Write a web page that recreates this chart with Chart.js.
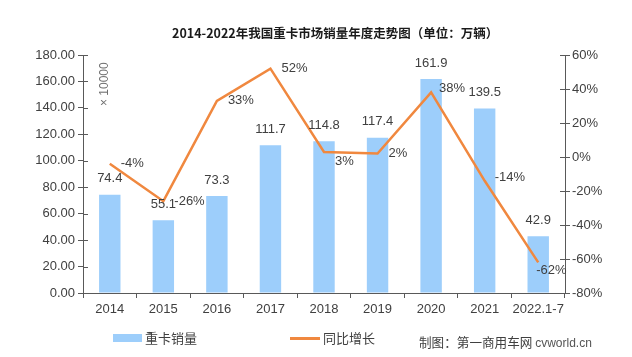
<!DOCTYPE html>
<html><head><meta charset="utf-8">
<script src="https://cdn.jsdelivr.net/npm/chart.js@4/dist/chart.umd.min.js"></script>
<style>
html,body{margin:0;padding:0;background:#fff;}
#wrap{position:relative;width:632px;height:357px;font-family:"Liberation Sans","Noto Sans CJK SC",sans-serif;color:#404040;}
#c{position:absolute;left:0;top:0;}
.t{position:absolute;white-space:nowrap;line-height:13px;}
</style></head>
<body><div id="wrap">
<canvas id="c" width="632" height="357"></canvas>
<div class="t" id="title" style="left:172px;top:26px;font:bold 12.5px/13px 'Noto Sans CJK SC','Liberation Sans';color:#1a1a1a;">2014-2022年我国重卡市场销量年度走势图（单位：万辆）</div>
<div class="t" style="left:113px;top:334px;width:29px;height:8px;background:#9DCEFB;"></div>
<div class="t" style="left:145px;top:331px;font:13px/13px 'Noto Sans CJK SC';">重卡销量</div>
<div class="t" style="left:290px;top:337px;width:30px;height:2.5px;background:#F0883F;"></div>
<div class="t" style="left:323px;top:331px;font:13px/13px 'Noto Sans CJK SC';">同比增长</div>
<div class="t" style="left:419px;top:335px;font:12.6px/13px 'Noto Sans CJK SC';">制图：第一商用车网 <span style="font-family:'Liberation Sans';font-size:12px;color:#555;">cvworld.cn</span></div>
<div class="t" style="left:98px;top:106px;transform:rotate(-90deg);transform-origin:0 0;font:12px/12px 'Liberation Sans';color:#707070;">× 10000</div>
</div>
<script>
const categories = ['2014','2015','2016','2017','2018','2019','2020','2021','2022.1-7'];
const sales = [74.4, 55.1, 73.3, 111.7, 114.8, 117.4, 161.9, 139.5, 42.9];
const growth = [-4, -26, 33, 52, 3, 2, 38, -14, -62];
const leftTicks = [0,20,40,60,80,100,120,140,160,180];
const rightTicks = [-80,-60,-40,-20,0,20,40,60];

const AXIS = '#595959';
const TXT = '#404040';

const innerTicks = {
  id:'innerTicks',
  afterDraw(chart){
    const ctx = chart.ctx;
    ctx.save();
    ctx.strokeStyle = AXIS; ctx.lineWidth = 1;
    ['y','y1'].forEach(id=>{
      const s = chart.scales[id];
      const x = id==='y' ? s.right : s.left;
      const dir = id==='y' ? 1 : -1;
      s.ticks.forEach((t,i)=>{
        const py = Math.round(s.getPixelForTick(i))+0.5;
        ctx.beginPath(); ctx.moveTo(x, py); ctx.lineTo(x+dir*5, py); ctx.stroke();
      });
    });
    ctx.restore();
  }
};

const labels = {
  id:'labels',
  afterDatasetsDraw(chart){
    const ctx = chart.ctx;
    ctx.save();
    ctx.font = '13px "Liberation Sans"';
    ctx.fillStyle = TXT;
    ctx.textBaseline = 'middle';
    const m0 = chart.getDatasetMeta(0);
    ctx.textAlign = 'center';
    m0.data.forEach((el,i)=>{
      ctx.fillText(sales[i].toFixed(1), el.x, el.y - 16);
    });
    const m1 = chart.getDatasetMeta(1);
    ctx.textAlign = 'left';
    m1.data.forEach((el,i)=>{
      let dx = 11, dy = 0;
      if (i===4) dy = 10;
      if (i===7) { dx = 10; dy = -3; }
      if (i===8) { dx = -2; dy = 8; }
      if (i===6) { dx = 8; dy = -4; }
      ctx.fillText(growth[i]+'%', el.x+dx, el.y+dy);
    });
    ctx.restore();
  }
};

new Chart(document.getElementById('c'), {
  data:{
    labels: categories,
    datasets:[
      {type:'bar', label:'重卡销量', data: sales, backgroundColor:'#9DCEFB', yAxisID:'y',
       barPercentage:0.4, categoryPercentage:1.0, order:2},
      {type:'line', label:'同比增长', data: growth, borderColor:'#F0883F', borderWidth:2.5,
       pointRadius:0, tension:0, yAxisID:'y1', order:1}
    ]
  },
  options:{
    responsive:false, animation:false,
    layout:{padding:{left:0,right:0,top:55,bottom:34}},
    plugins:{legend:{display:false}, tooltip:{enabled:false}, title:{display:false}},
    scales:{
      x:{
        offset:true,
        grid:{offset:true, drawOnChartArea:false, drawTicks:true, tickLength:5, color:AXIS},
        border:{color:AXIS, width:1},
        ticks:{color:TXT, font:{size:13, family:'Liberation Sans'}, padding:4, maxRotation:0, autoSkip:false},
        afterFit(s){ s.height = 30; }
      },
      y:{
        position:'left', min:0, max:180,
        afterBuildTicks(s){ s.ticks = leftTicks.map(v=>({value:v})); },
        grid:{drawOnChartArea:false, tickLength:5, color:AXIS},
        border:{color:AXIS, width:1},
        ticks:{color:TXT, font:{size:13, family:'Liberation Sans'}, padding:3, callback:v=>v.toFixed(2)},
        afterFit(s){ s.width = 83; }
      },
      y1:{
        position:'right', min:-80, max:60,
        afterBuildTicks(s){ s.ticks = rightTicks.map(v=>({value:v})); },
        grid:{drawOnChartArea:false, tickLength:5, color:AXIS},
        border:{color:AXIS, width:1},
        ticks:{color:TXT, font:{size:13, family:'Liberation Sans'}, padding:2, callback:v=>v+'%'},
        afterFit(s){ s.width = 632-565; }
      }
    }
  },
  plugins:[innerTicks, labels]
});
</script>
</body></html>
